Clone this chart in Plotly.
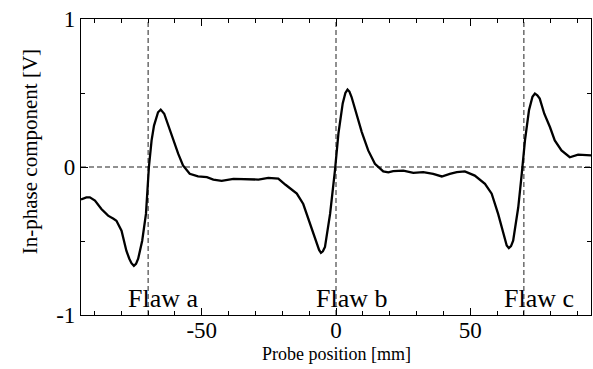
import plotly.graph_objects as go

# Probe position [mm]
x_pos = [-95, -94.5, -93.0, -91.7, -89.8, -87.4, -84.9, -82.9, -81.8, -79.9, -78.1, -77.0,
         -76.2, -75.3, -74.5, -73.7, -72.2, -70.8, -69.7, -68.7, -67.8, -66.3, -65.3, -64.0,
         -62.5, -60.7, -58.8, -57.0, -54.5, -51.4, -48.1, -45.7, -42.6, -38.2, -33.2, -28.9,
         -25.2, -21.5, -18.8, -16.5, -14.6, -12.2, -9.7, -7.2, -6.3, -5.6, -4.9, -4.1, -2.2,
         -0.4, 0.9, 2.5, 3.5, 4.3, 5.0, 5.8, 7.7, 9.6, 12.0, 14.5, 17.6, 19.5, 21.3, 25.1,
         28.8, 32.5, 36.2, 39.4, 42.4, 45.0, 48.0, 51.7, 55.5, 58.0, 60.4, 62.7, 63.6, 64.4,
         65.2, 66.0, 67.9, 69.2, 70.4, 71.9, 73.2, 74.1, 75.0, 75.9, 77.6, 79.7, 81.5, 84.0,
         87.1, 90.2, 94.0, 95.0]
# In-phase component [V]
v_inphase = [-0.22, -0.215, -0.205, -0.205, -0.227, -0.284, -0.329, -0.35, -0.363, -0.43,
             -0.566, -0.62, -0.65, -0.668, -0.655, -0.62, -0.498, -0.317, 0.0, 0.18, 0.28,
             0.37, 0.388, 0.36, 0.28, 0.18, 0.09, 0.01, -0.046, -0.064, -0.069, -0.085,
             -0.094, -0.08, -0.08, -0.085, -0.073, -0.078, -0.12, -0.155, -0.18, -0.25,
             -0.385, -0.52, -0.56, -0.58, -0.57, -0.54, -0.317, -0.024, 0.225, 0.43, 0.50,
             0.523, 0.51, 0.473, 0.36, 0.236, 0.112, 0.022, -0.03, -0.036, -0.028, -0.024,
             -0.04, -0.035, -0.046, -0.064, -0.046, -0.035, -0.03, -0.058, -0.114, -0.18,
             -0.317, -0.476, -0.53, -0.548, -0.535, -0.498, -0.272, -0.046, 0.18, 0.383,
             0.475, 0.496, 0.485, 0.462, 0.36, 0.27, 0.18, 0.112, 0.066, 0.083, 0.078, 0.078]

flaw_pos = [-70, 0, 70]
flaw_labels = ["Flaw a", "Flaw b", "Flaw c"]

FONT = "Liberation Serif"

fig = go.Figure()
fig.add_trace(go.Scatter(x=x_pos, y=v_inphase, mode="lines",
                         line=dict(color="black", width=2.3),
                         showlegend=False, hoverinfo="skip"))

for xp in flaw_pos:
    fig.add_shape(type="line", xref="x", yref="paper", x0=xp, x1=xp, y0=0, y1=1,
                  line=dict(color="#222222", width=1, dash="5px,3px"), layer="below")
fig.add_shape(type="line", xref="paper", yref="y", x0=0, x1=1, y0=0, y1=0,
              line=dict(color="#222222", width=1, dash="5px,3px"), layer="below")

for xp, lab in zip(flaw_pos, flaw_labels):
    fig.add_annotation(x=xp, y=-1, xref="x", yref="y", text=lab, showarrow=False,
                       xanchor="left", yanchor="bottom", xshift=-22, yshift=0,
                       font=dict(family=FONT, size=26, color="black"))

# axis titles
fig.add_annotation(x=0.5, y=-0.092, xref="paper", yref="paper", text="Probe position [mm]",
                   showarrow=False, xanchor="center", yanchor="top",
                   font=dict(family=FONT, size=18, color="black"))
fig.add_annotation(x=-0.1, y=0.55, xref="paper", yref="paper", text="In-phase component [V]",
                   showarrow=False, xanchor="center", yanchor="middle", textangle=-90,
                   font=dict(family=FONT, size=21, color="black"))

fig.update_layout(
    width=593, height=369,
    margin=dict(l=81, r=2, t=19, b=54, autoexpand=False),
    plot_bgcolor="white", paper_bgcolor="white",
    font=dict(family=FONT, color="black"),
)
fig.update_xaxes(range=[-95, 95], tickvals=[-50, 0, 50], ticktext=["-50", "0", "50"],
                 ticks="inside", ticklen=7, tickwidth=1, tickcolor="black",
                 minor=dict(dtick=10, tick0=0, ticks="inside", ticklen=4, tickcolor="black"),
                 showline=True, linecolor="black", linewidth=1.2, mirror="ticks",
                 showgrid=False, zeroline=False, automargin=False, ticklabelstandoff=-6,
                 tickfont=dict(family=FONT, size=23))
fig.update_yaxes(range=[-1, 1], tickvals=[-1, 0, 1], ticktext=["-1", "0", "1"],
                 ticks="inside", ticklen=7, tickwidth=1, tickcolor="black",
                 minor=dict(dtick=0.5, tick0=0, ticks="inside", ticklen=4, tickcolor="black"),
                 showline=True, linecolor="black", linewidth=1.2, mirror="ticks",
                 showgrid=False, zeroline=False, automargin=False,
                 tickfont=dict(family=FONT, size=23))

fig.write_html("out.html", config={"displayModeBar": False},
               post_script="document.body.style.margin='0';document.body.style.overflow='hidden';")
